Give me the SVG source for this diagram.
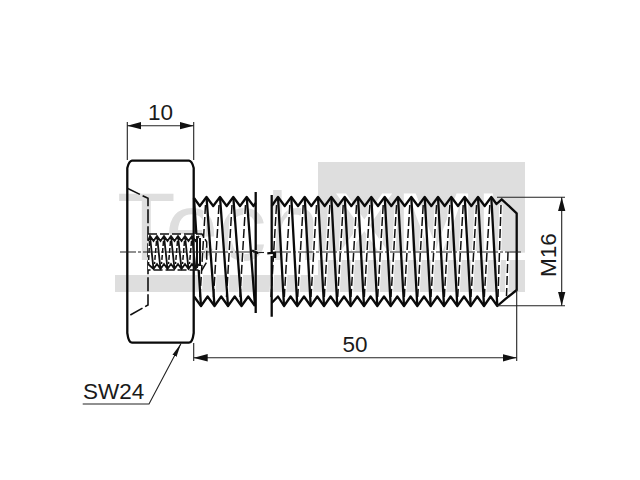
<svg xmlns="http://www.w3.org/2000/svg" xmlns:xlink="http://www.w3.org/1999/xlink" width="640" height="480" viewBox="0 0 640 480">
<style>
text{font-family:"Liberation Sans",Arial,sans-serif}
.lbl{font-size:22.500px;fill:#1a1a1a}
.wm{font-size:96px}
.thin{fill:none;stroke:#222;stroke-width:1.100}
.body{fill:none;stroke:#0a0a0a;stroke-width:2.300;stroke-linejoin:round}
.dash{fill:none;stroke:#111;stroke-width:1.500;stroke-dasharray:9 3}
.halo{fill:none;stroke:#fff;stroke-width:3.500}
.hid{fill:none;stroke:#111;stroke-width:1.600;stroke-dasharray:14 3}
</style>
<defs>
<marker id="arr" viewBox="0 -4 14 8" refX="14" refY="0" markerWidth="14" markerHeight="8" markerUnits="userSpaceOnUse" orient="auto-start-reverse"><path d="M14 0L0 -3.700V3.700Z" fill="#111"/></marker>
<marker id="arrn" viewBox="0 -3 14 6" refX="14" refY="0" markerWidth="14" markerHeight="6" markerUnits="userSpaceOnUse" orient="auto"><path d="M14 0L0 -2.200V2.200Z" fill="#111"/></marker>
<path id="dashes" d="M205.500 205l-5.500 92M219 205l-5.500 92M232 205l-5.500 92M245.500 205l-5.500 92M276.500 205l-5.500 92M289.800 205l-5.500 92M303.200 205l-5.500 92M316.500 205l-5.500 92M329.800 205l-5.500 92M343.200 205l-5.500 92M356.500 205l-5.500 92M369.800 205l-5.500 92M383.200 205l-5.500 92M396.500 205l-5.500 92M409.800 205l-5.500 92M423.200 205l-5.500 92M436.500 205l-5.500 92M449.800 205l-5.500 92M463.200 205l-5.500 92M476.500 205l-5.500 92M489.800 205l-5.500 92M501 205l-3 92M508 252l-1.500 44"/>
</defs>
<g id="watermark">
<rect x="115" y="275" width="203" height="17" fill="#dedede"/>
<rect x="318" y="162" width="207" height="130" fill="#dedede"/>
<rect x="318" y="251" width="192" height="9" fill="#fff"/>
<text class="wm" x="117" y="260" fill="#dedede">Tech</text>
<text class="wm" x="332" y="260" fill="#fff">XML</text>
</g>
<g id="screw">
<use href="#dashes" class="halo"/>
<use href="#dashes" class="dash"/>
<path class="body" d="M194 198L199.800 206L206.500 197L213.200 206L220 197L226.700 206L233.300 197L240 206L246.700 197L253.500 206L255.700 203"/>
<path class="body" d="M194 296.500L201 306L207.600 296.500L214.500 306L221.200 296.500L228 306L234.700 296.500L241.500 306L248.200 296.500L255 306"/>
<path class="body" d="M194 198L201 306M206.500 197L214.500 306M220 197L228 306M233.300 197L241.500 306M246.700 197L255 306"/>
<path class="body" d="M271.700 206L278 197L284.700 206L291.300 197L298 206L304.700 197L311.300 206L318 197L324.700 206L331.300 197L338 206L344.700 197L351.300 206L358 197L364.700 206L371.300 197L378 206L384.700 197L391.300 206L398 197L404.700 206L411.300 197L418 206L424.700 197L431.300 206L438 197L444.700 206L451.300 197L458 206L464.700 197L471.300 206L478 197L484.700 206L491.300 197L496.500 204L501.700 199.300L516.700 213.300V290L505 299.300L497.300 306L490.600 296.500L484 306L477.300 296.500L470.700 306L464 296.500L457.300 306L450.600 296.500L444 306L437.300 296.500L430.700 306L424 296.500L417.300 306L410.600 296.500L404 306L397.300 296.500L390.700 306L384 296.500L377.300 306L370.600 296.500L364 306L357.300 296.500L350.700 306L344 296.500L337.300 306L330.600 296.500L324 306L317.300 296.500L310.700 306L304 296.500L297.300 306L290.600 296.500L284 306L278 296.500L271.700 303"/>
<path class="body" d="M278 197l6 109M291.300 197l6 109M304.700 197l6 109M318 197l6 109M331.300 197l6 109M344.700 197l6 109M358 197l6 109M371.300 197l6 109M384.700 197l6 109M398 197l6 109M411.300 197l6 109M424.700 197l6 109M438 197l6 109M451.300 197l6 109M464.700 197l6 109M478 197l6 109M491.300 197l6 109"/>
</g>
<g id="head">
<path class="body" d="M132 160.700H189Q192 161 193.700 168V333Q192.500 342.700 189 342.700H132Q128.500 342.700 127.300 333V168Q129 161 132 160.700Z"/>
<path class="hid" d="M127.300 188.300L148 198.300V305L127.300 316.700"/>
</g>
<g id="socket">
<rect x="148" y="234" width="52" height="36" fill="#fff"/>
<path class="dash" d="M148 234H202L206.700 242V262L202 270H148"/>
<path d="M148 241L150 236L153.500 241L157 236L160.500 241L164 236L167.500 241L171 236L174.500 241L178 236L181.500 241L185 236L188.500 241L192 236L195.500 241L199 236M148 264L153.500 269L157 264L160.500 269L164 264L167.500 269L171 264L174.500 269L178 264L181.500 269L185 264L188.500 269L192 264L195.500 269L199 264M150 236l3.500 33M157 236l3.500 33M164 236l3.500 33M171 236l3.500 33M178 236l3.500 33M185 236l3.500 33M192 236l3.500 33" fill="none" stroke="#111" stroke-width="1.800"/>
<path d="M149.500 241l-1 23M156.500 241l-2 23M163.500 241l-2 23M170.500 241l-2 23M177.500 241l-2 23M184.500 241l-2 23M191.500 241l-2 23" fill="none" stroke="#111" stroke-width="1.500" stroke-dasharray="5 2"/>
<path d="M193.700 234V270M197 236V268M200 238V266" fill="none" stroke="#111" stroke-width="2"/>
</g>
<g id="break">
<path class="body" d="M255.700 192V250M252 250.500L258.500 253.300M255.700 252V313"/>
<path class="body" d="M271.700 195V252.500M267.300 253.300L275 252.700V258M271.700 256V316.700"/>
</g>
<g id="connectors">
<path class="thin" stroke-dasharray="16 2 3 2" d="M120 252H255"/>
<path class="thin" d="M259 252.500H264"/>
<path class="thin" stroke-dasharray="16 2 3 2" d="M275 252H523"/>
<path class="thin" d="M127.300 122V160M193.700 122V160"/>
<path class="thin" marker-start="url(#arr)" marker-end="url(#arr)" d="M127.300 125.700H193.700"/>
<path class="thin" d="M497 197.300H565M497 305.700H565"/>
<path class="thin" marker-start="url(#arr)" marker-end="url(#arr)" d="M561.700 197.300V305.700"/>
<path class="thin" d="M193.700 343V361M516.700 290V361"/>
<path class="thin" marker-start="url(#arr)" marker-end="url(#arr)" d="M193.700 357.800H516.700"/>
<path class="thin" stroke-width="1.300" marker-end="url(#arrn)" d="M82.700 404H149L181 343.500"/>
</g>
<g id="labels">
<text class="lbl" x="160.500" y="120" text-anchor="middle">10</text>
<text class="lbl" x="355" y="352" text-anchor="middle">50</text>
<text class="lbl" transform="translate(556 255) rotate(-90)" text-anchor="middle">M16</text>
<text class="lbl" x="83" y="399">SW24</text>
</g>
</svg>
